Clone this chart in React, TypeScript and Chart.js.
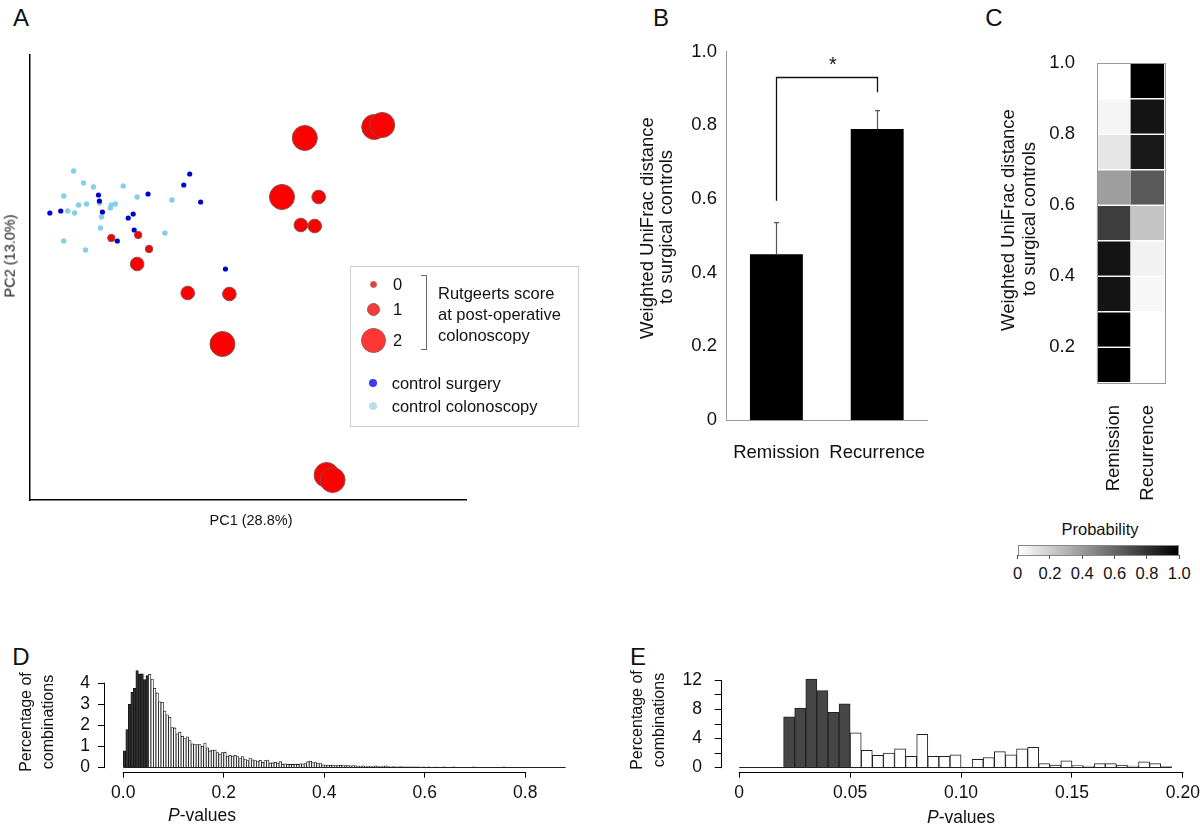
import React, { useEffect, useRef } from "react";
import { Chart, registerables } from "chart.js";

Chart.register(...registerables);

const FONT = "'Liberation Sans', Arial, Helvetica, sans-serif";
Chart.defaults.font.family = FONT;
Chart.defaults.color = "#111";

// ---------------- Panel A : PCoA ----------------
const surgeryPC1 = [1.61, 1.55, 1.72, 1.19, 0.69, 0.7, 0.2, 0.31, 0.73, 0.99, 1.04, 1.05, 0.88, 1.97];
const surgeryPC2 = [3.26, 3.15, 2.98, 3.06, 3.05, 2.99, 2.87, 2.89, 2.88, 2.82, 2.86, 2.7, 2.59, 2.31];
const colonoscopyPC1 = [0.44, 0.54, 0.64, 0.34, 0.94, 1.08, 1.43, 0.49, 0.57, 0.7, 0.82, 0.81, 0.86, 0.38, 0.45, 0.72, 0.71, 1.36, 0.34, 0.56];
const colonoscopyPC2 = [3.29, 3.17, 3.13, 3.04, 3.14, 3.03, 3.0, 2.95, 2.96, 2.97, 2.95, 2.92, 2.96, 2.89, 2.87, 2.83, 2.72, 2.67, 2.59, 2.5];
const crohnPC1 = [0.82, 1.09, 1.2, 1.08, 1.59, 2.01, 2.91, 2.73, 2.87, 2.77, 3.47, 3.55, 2.54, 1.94, 2.99, 3.05];
const crohnPC2 = [2.62, 2.65, 2.51, 2.36, 2.07, 2.06, 3.03, 2.75, 2.74, 3.62, 3.73, 3.75, 3.03, 1.56, 0.25, 0.2];
const crohnRutgeerts = [0, 0, 0, 1, 1, 1, 1, 1, 1, 2, 2, 2, 2, 2, 2, 2];
const rutgeertsRadius = [3.7, 6.8, 12.5];

// ---------------- Panel B : bars ----------------
const groups = ["Remission", "Recurrence"];
const groupMeans = [0.45, 0.79];
const groupSEM = [0.086, 0.05];
const bracketLevel = 0.93;
const bracketLegs = [0.595, 0.89];

// ---------------- Panel C : heatmap ----------------
const distanceBinStarts = [0.1, 0.2, 0.3, 0.4, 0.5, 0.6, 0.7, 0.8, 0.9];
const distanceBinWidth = 0.1;
const remissionProb = [1.0, 1.0, 0.92, 0.92, 0.76, 0.38, 0.1, 0.04, 0.0];
const recurrenceProb = [0.0, 0.0, 0.03, 0.05, 0.23, 0.65, 0.9, 0.92, 1.0];
const heatTicks = [0.2, 0.4, 0.6, 0.8, 1.0];
const colorbarTicks = [0, 0.2, 0.4, 0.6, 0.8, 1.0];

// ---------------- Panel D : histogram ----------------
const dBinWidth = 0.005;
const dPercent = [
  0.8, 1.8, 3.0, 3.57, 3.76, 4.6, 4.45, 4.45, 4.17, 4.36,
  4.42, 4.2, 3.76, 3.54, 3.12, 3.1, 2.68, 2.5, 2.38, 1.9,
  1.88, 1.6, 1.68, 1.49, 1.38, 1.46, 1.28, 1.13, 1.09, 1.09,
  1.09, 1.01, 1.16, 0.94, 0.79, 0.83, 0.83, 0.71, 0.64, 0.71,
  0.73, 0.55, 0.58, 0.55, 0.58, 0.52, 0.43, 0.52, 0.4, 0.33,
  0.45, 0.37, 0.33, 0.31, 0.34, 0.25, 0.33, 0.36, 0.22, 0.22,
  0.25, 0.21, 0.28, 0.16, 0.18, 0.16, 0.15, 0.15, 0.16, 0.15,
  0.18, 0.18, 0.19, 0.28, 0.31, 0.24, 0.24, 0.19, 0.19, 0.13,
  0.12, 0.12, 0.11, 0.12, 0.1, 0.1, 0.11, 0.1, 0.09, 0.1,
  0.08, 0.09, 0.08, 0.07, 0.07, 0.08, 0.06, 0.05, 0.06, 0.05,
  0.08, 0.05, 0.05, 0.06, 0.08, 0.05, 0.04, 0.05, 0.04, 0.04,
  0.05, 0.03, 0.04, 0.03, 0.03, 0.04, 0.03, 0.03, 0.02, 0.03,
  0.02, 0.03, 0.02, 0.02, 0.04, 0.02, 0.02, 0.03, 0.02, 0.02,
  0.02, 0.03, 0.02, 0.02, 0.02, 0.01, 0.02, 0.02, 0.02, 0.03,
  0.02, 0.01, 0.02, 0.02, 0.01, 0.02, 0.02, 0.01, 0.01, 0.02,
  0.01, 0.03, 0.01, 0.01, 0.02, 0.01, 0.01, 0.01, 0.02, 0.01,
  0.01, 0.01, 0.01, 0.02, 0.01, 0.01, 0.01, 0.01, 0.01, 0.01,
  0.01, 0.01, 0.01, 0.01, 0.01, 0.01,
];
const dTicksX = [0, 0.2, 0.4, 0.6, 0.8];
const dTicksY = [0, 1, 2, 3, 4];

// ---------------- Panel E : histogram ----------------
const eBinWidth = 0.005;
const ePercent = [
  0, 0, 0, 0, 7.0, 8.2, 12.2, 10.6, 7.6, 8.8,
  4.8, 2.4, 1.7, 2.0, 2.6, 1.55, 4.6, 1.55, 1.55, 1.75,
  0, 1.15, 1.4, 2.2, 1.75, 2.6, 2.8, 0.55, 0.35, 0.95,
  0.3, 0.2, 0.55, 0.55, 0.35, 0.2, 0.8, 0.55, 0.15, 0,
];
const eTicksX = [0, 0.05, 0.1, 0.15, 0.2];
const eTicksY = [0, 2, 4, 6, 8, 10, 12];
const significance = 0.05;

// ---------------- helpers ----------------
const fixWidth = (w: number) => (s: any) => { s.width = w; };
const fixHeight = (h: number) => (s: any) => { s.height = h; };
const setTicks = (vals: number[]) => (s: any) => { s.ticks = vals.map((v) => ({ value: v })); };
const gray = (p: number) => { const g = Math.round(255 * (1 - p)); return `rgb(${g},${g},${g})`; };
const crisp = (v: number) => Math.round(v) + 0.5;

const common = {
  responsive: false,
  maintainAspectRatio: false,
  animation: false,
  devicePixelRatio: 1,
  events: [],
};
const noPlugins = { legend: { display: false }, tooltip: { enabled: false } };

// R-style axes: lines only between first and last tick, plus the histogram baseline
const makeRAxis = (xRange: number[], yRange: number[], baseRange: number[]) => ({
  id: "rAxis",
  afterDatasetsDraw(chart: any) {
    const { ctx } = chart;
    const xs = chart.scales.x, ys = chart.scales.y;
    ctx.save();
    ctx.strokeStyle = "#000";
    ctx.lineWidth = 1;
    ctx.beginPath();
    const yb = crisp(xs.top);
    ctx.moveTo(xs.getPixelForValue(xRange[0]) - 0.5, yb);
    ctx.lineTo(xs.getPixelForValue(xRange[1]) + 0.5, yb);
    ctx.stroke();
    ctx.beginPath();
    const xl = crisp(ys.right) - 1;
    ctx.moveTo(xl, ys.getPixelForValue(yRange[0]) + 0.5);
    ctx.lineTo(xl, ys.getPixelForValue(yRange[1]) - 0.5);
    ctx.stroke();
    ctx.strokeStyle = "#222";
    ctx.beginPath();
    const y0 = crisp(ys.getPixelForValue(0)) - 1;
    ctx.moveTo(xs.getPixelForValue(baseRange[0]), y0);
    ctx.lineTo(xs.getPixelForValue(baseRange[1]), y0);
    ctx.stroke();
    ctx.restore();
  },
});

const barExtrasPlugin = {
  id: "barExtras",
  afterDatasetsDraw(chart: any) {
    const { ctx } = chart;
    const xs = chart.scales.x, ys = chart.scales.y;
    ctx.save();
    ctx.strokeStyle = "#555";
    ctx.lineWidth = 1.2;
    groupMeans.forEach((m, i) => {
      const x = crisp(xs.getPixelForValue(i));
      const y0 = ys.getPixelForValue(m);
      const y1 = ys.getPixelForValue(m + groupSEM[i]);
      ctx.beginPath();
      ctx.moveTo(x, y0);
      ctx.lineTo(x, y1);
      ctx.moveTo(x - 2.5, y1);
      ctx.lineTo(x + 2.5, y1);
      ctx.stroke();
    });
    ctx.strokeStyle = "#111";
    ctx.lineWidth = 1.3;
    const xa = crisp(xs.getPixelForValue(0));
    const xb = crisp(xs.getPixelForValue(1));
    const yb = crisp(ys.getPixelForValue(bracketLevel));
    ctx.beginPath();
    ctx.moveTo(xa, ys.getPixelForValue(bracketLegs[0]));
    ctx.lineTo(xa, yb);
    ctx.lineTo(xb, yb);
    ctx.lineTo(xb, ys.getPixelForValue(bracketLegs[1]));
    ctx.stroke();
    ctx.restore();
  },
};

const outlinePlugin = {
  id: "outline",
  afterDatasetsDraw(chart: any) {
    const { ctx, chartArea: a } = chart;
    ctx.save();
    ctx.strokeStyle = "#9a9a9a";
    ctx.lineWidth = 1;
    ctx.strokeRect(crisp(a.left), crisp(a.top), Math.round(a.right - a.left), Math.round(a.bottom - a.top));
    ctx.restore();
  },
};

// ---------------- chart configs ----------------
const configA = () => ({
  type: "scatter",
  data: {
    datasets: [
      {
        data: crohnPC1.map((x, i) => ({ x, y: crohnPC2[i] })),
        pointRadius: crohnRutgeerts.map((s) => rutgeertsRadius[s]),
        backgroundColor: "#ff0000",
        borderColor: "#8c4a4a",
        borderWidth: 1,
      },
      {
        data: surgeryPC1.map((x, i) => ({ x, y: surgeryPC2[i] })),
        pointRadius: 2.6,
        backgroundColor: "#0000cd",
        borderWidth: 0,
      },
      {
        data: colonoscopyPC1.map((x, i) => ({ x, y: colonoscopyPC2[i] })),
        pointRadius: 2.7,
        backgroundColor: "#87ceeb",
        borderWidth: 0,
      },
    ],
  },
  options: {
    ...common,
    clip: false,
    plugins: noPlugins,
    layout: { padding: { top: 55, right: 10, left: 0, bottom: 0 } },
    scales: {
      x: {
        type: "linear", min: 0, max: 4.4,
        ticks: { display: false }, grid: { display: false },
        border: { color: "#000", width: 1.5 },
        afterFit: fixHeight(40),
      },
      y: {
        type: "linear", min: 0, max: 4.45,
        ticks: { display: false }, grid: { display: false },
        border: { color: "#000", width: 1.5 },
        afterFit: fixWidth(30),
      },
    },
  },
});

const configB = () => ({
  type: "bar",
  data: {
    labels: groups,
    datasets: [{ data: groupMeans, backgroundColor: "#000", barPercentage: 0.525, categoryPercentage: 1 }],
  },
  options: {
    ...common,
    plugins: noPlugins,
    layout: { padding: { top: 21.7, right: 12, left: 0, bottom: 0 } },
    scales: {
      x: {
        grid: { display: false, drawTicks: false },
        border: { color: "#999", width: 1 },
        ticks: { font: { size: 18.5 }, padding: 22, color: "#111" },
        afterFit: fixHeight(60),
      },
      y: {
        min: 0, max: 1,
        grid: { display: false, drawTicks: false },
        border: { color: "#999", width: 1 },
        ticks: {
          stepSize: 0.2, font: { size: 18.5 }, padding: 9, color: "#111",
          callback: (v: number) => (v === 0 ? "0" : v.toFixed(1)),
        },
        afterFit: fixWidth(106),
      },
    },
  },
  plugins: [barExtrasPlugin],
});

const configC = () => ({
  type: "bar",
  data: {
    labels: groups,
    datasets: distanceBinStarts.map((lo, i) => ({
      data: [[lo, lo + distanceBinWidth], [lo, lo + distanceBinWidth]],
      backgroundColor: [gray(remissionProb[i]), gray(recurrenceProb[i])],
      borderColor: "#ffffff",
      borderWidth: { top: 1.5, right: 0, bottom: 0, left: 0 },
      borderSkipped: false,
      grouped: false,
      barPercentage: 1,
      categoryPercentage: 1,
    })),
  },
  options: {
    ...common,
    plugins: noPlugins,
    layout: { padding: { top: 23, right: 30.7, left: 0, bottom: 0 } },
    scales: {
      x: {
        grid: { display: false, drawTicks: false },
        border: { display: false },
        ticks: { font: { size: 18.5 }, padding: 22.7, minRotation: 90, maxRotation: 90, color: "#111" },
        afterFit: fixHeight(127.7),
      },
      y: {
        type: "linear", min: 0.1, max: 1.0,
        grid: { display: false, drawTicks: false },
        border: { display: false },
        afterBuildTicks: setTicks(heatTicks),
        ticks: { font: { size: 18.5 }, padding: 21.7, color: "#111", callback: (v: number) => v.toFixed(1) },
        afterFit: fixWidth(106.7),
      },
    },
  },
  plugins: [outlinePlugin],
});

const histConfig = (p: any) => () => ({
  type: "bar",
  data: {
    datasets: [
      {
        data: p.values.map((y: number, i: number) => ({ x: i * p.binW + p.binW / 2, y })),
        backgroundColor: p.values.map((_: number, i: number) => (i * p.binW + p.binW / 2 < significance ? p.dark : "#fff")),
        borderColor: p.stroke,
        borderWidth: p.bw,
        borderSkipped: "start",
        barPercentage: 1,
        categoryPercentage: 1,
      },
    ],
  },
  options: {
    ...common,
    plugins: noPlugins,
    layout: { padding: { top: p.padTop, right: p.padRight, left: 0, bottom: 0 } },
    scales: {
      x: {
        type: "linear", min: p.xr[0], max: p.xr[1], offset: false,
        afterBuildTicks: setTicks(p.xt),
        grid: { display: true, offset: false, drawOnChartArea: false, drawTicks: true, tickLength: 6, color: "#000" },
        border: { display: false },
        ticks: { font: { size: 17.5 }, padding: 5, color: "#111", autoSkip: false, maxRotation: 0, callback: p.xLabel },
        afterFit: fixHeight(56.3),
      },
      y: {
        type: "linear", min: p.yr[0], max: p.yr[1], offset: false,
        afterBuildTicks: setTicks(p.yt),
        grid: { display: true, offset: false, drawOnChartArea: false, drawTicks: true, tickLength: 7, color: "#000" },
        border: { display: false },
        ticks: { font: { size: 17.5 }, padding: p.yPad, color: "#111", autoSkip: false, callback: p.yLabel },
        afterFit: fixWidth(p.yWidth),
      },
    },
  },
  plugins: [makeRAxis(p.axX, p.axY, p.base)],
});

const configD = histConfig({
  values: dPercent, binW: dBinWidth, dark: "#333", stroke: "#111", bw: 0.8,
  xr: [-0.0364, 0.8891], yr: [-0.196, 4.7], xt: dTicksX, yt: dTicksY,
  xLabel: (v: number) => v.toFixed(1), yLabel: (v: number) => String(v),
  yWidth: 105, padTop: 12, padRight: 50, yPad: 8,
  axX: [0, 0.8], axY: [0, 4], base: [0, dPercent.length * dBinWidth],
});

const configE = histConfig({
  values: ePercent, binW: eBinWidth, dark: "#464646", stroke: "#222", bw: 1,
  xr: [-0.0079, 0.2023], yr: [-0.557, 13], xt: eTicksX, yt: eTicksY,
  xLabel: (v: number) => (v === 0 ? "0" : v.toFixed(2)), yLabel: (v: number) => (v % 4 === 0 ? String(v) : ""),
  yWidth: 101.7, padTop: 7.3, padRight: 42, yPad: 12.7,
  axX: [0, 0.2], axY: [0, 12], base: [0, 0.195],
});

// ---------------- components ----------------
function ChartBox({ left, top, width, height, config }: any) {
  const ref = useRef<HTMLCanvasElement>(null);
  useEffect(() => {
    const chart = new Chart(ref.current as HTMLCanvasElement, config() as any);
    return () => chart.destroy();
  }, []);
  return (
    <canvas
      ref={ref}
      width={width}
      height={height}
      style={{ position: "absolute", left, top, width, height }}
    />
  );
}

function Label({ x, y, size = 17, rotate = false, align = "center", children, style }: any) {
  const tx = align === "center" ? "-50%" : align === "left" ? "0%" : "-100%";
  return (
    <div
      style={{
        position: "absolute", left: x, top: y, fontSize: size, lineHeight: 1.15,
        whiteSpace: "nowrap", color: "#111",
        transform: `translate(${tx}, -50%)${rotate ? " rotate(-90deg)" : ""}`,
        ...style,
      }}
    >
      {children}
    </div>
  );
}

function Dot({ cx, cy, r, fill, stroke }: any) {
  return (
    <div
      style={{
        position: "absolute", left: cx - r, top: cy - r, width: 2 * r, height: 2 * r,
        borderRadius: "50%", background: fill, boxSizing: "border-box",
        border: stroke ? `1px solid ${stroke}` : "none",
      }}
    />
  );
}

export default function App() {
  const cbLeft = 1017.6, cbWidth = 161.7;
  return (
    <div
      style={{
        position: "absolute", left: 0, top: 0, width: 1200, height: 828,
        background: "#fff", overflow: "hidden", fontFamily: FONT, color: "#111",
      }}
    >
      {/* panel letters */}
      <Label x={21} y={18} size={24}>A</Label>
      <Label x={661} y={18} size={24}>B</Label>
      <Label x={994} y={18} size={24}>C</Label>
      <Label x={21} y={657} size={24}>D</Label>
      <Label x={638} y={657} size={24}>E</Label>

      {/* Panel A */}
      <ChartBox left={0} top={0} width={480} height={540} config={configA} />
      <Label x={10} y={256} size={14.5} rotate>PC2 (13.0%)</Label>
      <Label x={251} y={520} size={14.5}>PC1 (28.8%)</Label>
      <div style={{ position: "absolute", left: 350, top: 266, width: 229, height: 161, border: "1px solid #cfcfcf", boxSizing: "border-box" }} />
      <Dot cx={373.3} cy={284} r={3.5} fill="#f03a3a" stroke="#b06060" />
      <Dot cx={373.3} cy={309.3} r={6.5} fill="#f83a3a" stroke="#a05555" />
      <Dot cx={373.3} cy={340} r={12.5} fill="#ff3636" stroke="#a05555" />
      <Label x={393} y={284} size={16.5} align="left">0</Label>
      <Label x={393} y={309.3} size={16.5} align="left">1</Label>
      <Label x={393} y={340} size={16.5} align="left">2</Label>
      <div style={{ position: "absolute", left: 421, top: 275, width: 6, height: 75, borderTop: "1.5px solid #666", borderRight: "1.5px solid #666", borderBottom: "1.5px solid #666", boxSizing: "border-box" }} />
      <Label x={438} y={293.3} size={16.5} align="left">Rutgeerts score</Label>
      <Label x={438} y={314.3} size={16.5} align="left">at post-operative</Label>
      <Label x={438} y={335} size={16.5} align="left">colonoscopy</Label>
      <Dot cx={373.3} cy={382.7} r={4} fill="#3c3cf0" />
      <Dot cx={373.3} cy={405.7} r={4} fill="#b8e0ea" />
      <Label x={391.7} y={382.7} size={16.5} align="left">control surgery</Label>
      <Label x={391.7} y={405.7} size={16.5} align="left">control colonoscopy</Label>

      {/* Panel B */}
      <ChartBox left={620} top={30} width={330} height={450} config={configB} />
      <Label x={646.7} y={228} size={18.5} rotate>Weighted UniFrac distance</Label>
      <Label x={666} y={227} size={18.5} rotate>to surgical controls</Label>
      <Label x={833} y={64} size={20}>*</Label>

      {/* Panel C */}
      <ChartBox left={990} top={30} width={210} height={480} config={configC} />
      <Label x={1008} y={220} size={18.5} rotate>Weighted UniFrac distance</Label>
      <Label x={1029} y={219} size={18.5} rotate>to surgical controls</Label>
      <Label x={1100} y={529} size={16.5}>Probability</Label>
      <div
        style={{
          position: "absolute", left: cbLeft, top: 545, width: cbWidth, height: 11,
          background: "linear-gradient(to right, #fff, #000)", border: "1px solid #888", boxSizing: "border-box",
        }}
      />
      {colorbarTicks.map((t) => (
        <div key={"t" + t} style={{ position: "absolute", left: cbLeft + t * cbWidth - 0.5, top: 555, width: 1, height: 4, background: "#555" }} />
      ))}
      {colorbarTicks.map((t) => (
        <Label key={"l" + t} x={cbLeft + t * cbWidth} y={573} size={16.5}>
          {t === 0 ? "0" : t.toFixed(1)}
        </Label>
      ))}

      {/* Panel D */}
      <ChartBox left={0} top={650} width={620} height={178} config={configD} />
      <Label x={26} y={722} size={16} rotate>Percentage of</Label>
      <Label x={48} y={722} size={16} rotate>combinations</Label>
      <Label x={202} y={815} size={17.5}><i>P</i>-values</Label>

      {/* Panel E */}
      <ChartBox left={620} top={650} width={610} height={178} config={configE} />
      <Label x={637} y={720} size={16} rotate>Percentage of</Label>
      <Label x={659} y={720} size={16} rotate>combinations</Label>
      <Label x={961} y={817} size={17.5}><i>P</i>-values</Label>
    </div>
  );
}
